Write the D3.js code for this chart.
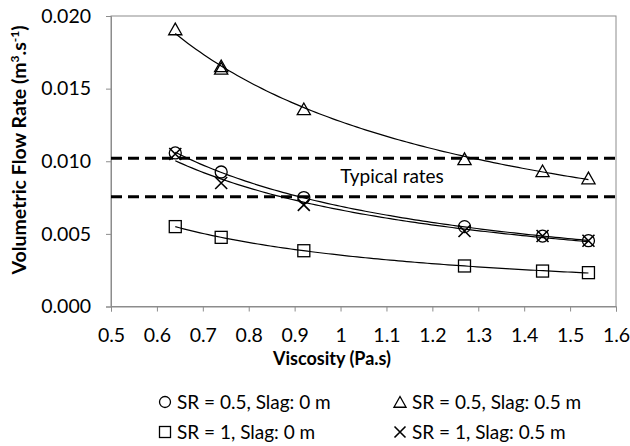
<!DOCTYPE html>
<html>
<head>
<meta charset="utf-8">
<script src="https://cdn.jsdelivr.net/npm/d3@7"></script>
<style>
  body { margin: 0; background: #fff; }
  text { font-family: Lato, "Open Sans", sans-serif; fill: #000; }
</style>
</head>
<body>
<svg id="chart"></svg>
<script>
// viscosity values (Pa.s)
var viscosity = [0.64, 0.74, 0.92, 1.27, 1.44, 1.54];

// flow rates (m3/s)
var sr05slag0 = [0.01057, 0.00926, 0.0075, 0.0055, 0.00485, 0.00453];
var sr05slag05 = [0.0191, 0.01656, 0.0136, 0.01016, 0.00933, 0.00884];
var sr05slag05extraX = [0.74];
var sr05slag05extraY = [0.01639];
var sr1slag0 = [0.0055, 0.00476, 0.00384, 0.00279, 0.00244, 0.00233];
var sr1slag05 = [0.0105, 0.0085, 0.0070, 0.0052, 0.00485, 0.00453];

var typicalRates = [0.0102, 0.00756];

var xTicks = [0.5, 0.6, 0.7, 0.8, 0.9, 1, 1.1, 1.2, 1.3, 1.4, 1.5, 1.6];
var yTicks = [0, 0.005, 0.01, 0.015, 0.02];

var width = 630, height = 446;
var margin = {top: 16, right: 14, bottom: 139.5, left: 111};

var svg = d3.select('#chart')
    .attr('width', width)
    .attr('height', height);

var x = d3.scaleLinear().domain([0.5, 1.6]).range([margin.left, width - margin.right]);
var y = d3.scaleLinear().domain([0, 0.02]).range([height - margin.bottom, margin.top]);

// plot frame
svg.append('rect')
    .attr('x', margin.left).attr('y', margin.top)
    .attr('width', x(1.6) - x(0.5)).attr('height', y(0) - y(0.02))
    .attr('fill', 'none').attr('stroke', '#8c8c8c').attr('stroke-width', 1);

var xAxis = svg.append('g')
    .attr('transform', `translate(0, ${y(0)})`)
    .call(d3.axisBottom(x).tickValues(xTicks).tickSize(5).tickPadding(17)
        .tickFormat(d => d3.format('')(d)));
var yAxis = svg.append('g')
    .attr('transform', `translate(${margin.left}, 0)`)
    .call(d3.axisLeft(y).tickValues(yTicks).tickSize(5).tickPadding(15)
        .tickFormat(d3.format('.3f')));

[xAxis, yAxis].forEach(g => {
    g.select('.domain').attr('stroke', '#8c8c8c');
    g.selectAll('.tick line').attr('stroke', '#8c8c8c');
    g.selectAll('.tick text').style('font-size', '19.5px').style('font-family', 'Lato, sans-serif');
});

// power-law trendline, y = a * x^b
function powerFit(xs, ys) {
    var lx = xs.map(Math.log), ly = ys.map(Math.log);
    var mx = d3.mean(lx), my = d3.mean(ly);
    var sxy = d3.sum(lx.map((v, i) => (v - mx) * (ly[i] - my)));
    var sxx = d3.sum(lx.map(v => (v - mx) * (v - mx)));
    var b = sxy / sxx;
    var a = Math.exp(my - b * mx);
    return v => a * Math.pow(v, b);
}

var series = [
    {name: 'circle', xs: viscosity, ys: sr05slag0},
    {name: 'triangle', xs: viscosity.concat(sr05slag05extraX), ys: sr05slag05.concat(sr05slag05extraY)},
    {name: 'square', xs: viscosity, ys: sr1slag0},
    {name: 'cross', xs: viscosity, ys: sr1slag05}
];

var line = d3.line().x(d => x(d[0])).y(d => y(d[1]));
var xs = d3.range(0, 101).map(i => 0.64 + (1.54 - 0.64) * i / 100);

series.forEach(s => {
    var f = powerFit(s.xs, s.ys);
    svg.append('path')
        .attr('d', line(xs.map(v => [v, f(v)])))
        .attr('fill', 'none').attr('stroke', '#000').attr('stroke-width', 1.2);
});

function marker(g, type, cx, cy, size) {
    var sz = size || 6;
    if (type === 'circle') {
        g.append('circle').attr('cx', cx).attr('cy', cy).attr('r', sz)
            .attr('fill', 'none').attr('stroke', '#000').attr('stroke-width', 1.3);
    } else if (type === 'triangle') {
        g.append('path')
            .attr('d', `M${cx},${cy - sz} L${cx + sz * 1.1},${cy + sz * 0.95} L${cx - sz * 1.1},${cy + sz * 0.95} Z`)
            .attr('fill', 'none').attr('stroke', '#000').attr('stroke-width', 1.3);
    } else if (type === 'square') {
        g.append('rect').attr('x', cx - sz).attr('y', cy - sz)
            .attr('width', sz * 2).attr('height', sz * 2)
            .attr('fill', 'none').attr('stroke', '#000').attr('stroke-width', 1.3);
    } else {
        g.append('path')
            .attr('d', `M${cx - sz},${cy - sz} L${cx + sz},${cy + sz} M${cx + sz},${cy - sz} L${cx - sz},${cy + sz}`)
            .attr('fill', 'none').attr('stroke', '#000').attr('stroke-width', 1.6);
    }
}

var marks = svg.append('g');
series.forEach(s => {
    s.xs.forEach((v, i) => marker(marks, s.name, x(v), y(s.ys[i]), 6));
});

// typical rate band
typicalRates.forEach(r => {
    svg.append('line')
        .attr('x1', x(0.5)).attr('x2', x(1.6))
        .attr('y1', y(r)).attr('y2', y(r))
        .attr('stroke', '#000').attr('stroke-width', 3)
        .attr('stroke-dasharray', '11,6');
});

svg.append('text')
    .attr('x', 392).attr('y', 183)
    .attr('text-anchor', 'middle')
    .style('font-size', '19px')
    .text('Typical rates');

// axis titles
svg.append('text')
    .attr('x', 332).attr('y', 365)
    .attr('text-anchor', 'middle')
    .style('font-size', '18px').style('font-weight', 'bold')
    .text('Viscosity (Pa.s)');

var yt = svg.append('text')
    .attr('transform', 'translate(26, 150) rotate(-90)')
    .attr('text-anchor', 'middle')
    .style('font-size', '19.5px').style('font-weight', 'bold');
yt.append('tspan').text('Volumetric Flow Rate (m');
yt.append('tspan').attr('dy', -7).style('font-size', '12px').text('3');
yt.append('tspan').attr('dy', 7).text('.s');
yt.append('tspan').attr('dy', -7).style('font-size', '12px').text('-1');
yt.append('tspan').attr('dy', 7).text(')');

// legend
var legendItems = [
    {name: 'circle', label: 'SR = 0.5, Slag: 0 m', lx: 165, ly: 402},
    {name: 'triangle', label: 'SR = 0.5, Slag: 0.5 m', lx: 400, ly: 402},
    {name: 'square', label: 'SR = 1, Slag: 0 m', lx: 165, ly: 432},
    {name: 'cross', label: 'SR = 1, Slag: 0.5 m', lx: 400, ly: 432}
];
var legend = svg.append('g');
legendItems.forEach(d => {
    marker(legend, d.name, d.lx, d.ly, 5.5);
    legend.append('text')
        .attr('x', d.lx + 12).attr('y', d.ly + 6.5)
        .style('font-size', '19px')
        .text(d.label);
});
</script>
</body>
</html>
